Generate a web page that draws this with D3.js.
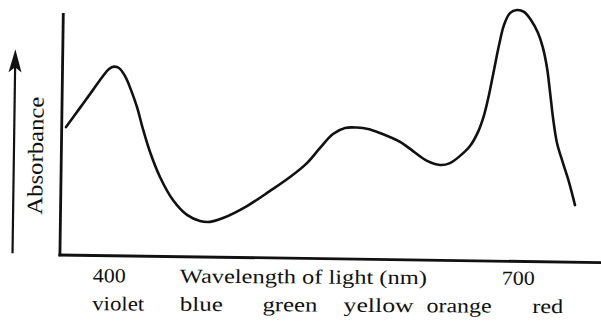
<!DOCTYPE html>
<html><head><meta charset="utf-8">
<script src="https://cdn.jsdelivr.net/npm/d3@7"></script>
<style>body{margin:0;background:#fff}svg{display:block}</style>
</head><body><svg id="c" width="601" height="325"></svg>
<script>
// ---- data ----
const wavelength = [368.5, 378.7, 388.3, 395.6, 400, 403.7, 407.3, 411.7, 416.1, 420.5, 424.9, 430.1, 437.4, 446.9, 457.2, 466.7, 474.1, 483.6, 501.2, 518.1, 532.8, 545.2, 554.8, 564.3, 573.1, 581.9, 590, 598.8, 613.5, 623, 633.3, 642.8, 650.1, 657.5, 664.8, 670.7, 675.1, 678.7, 682.4, 686.1, 689.7, 694.1, 699.3, 704.4, 709.5, 714.7, 718.3, 721.3, 723.5, 725.7, 728.6, 733, 737.4, 741.8];
const absorbance = [0.533, 0.613, 0.688, 0.746, 0.775, 0.785, 0.779, 0.746, 0.688, 0.617, 0.525, 0.429, 0.325, 0.229, 0.167, 0.142, 0.138, 0.154, 0.204, 0.267, 0.325, 0.383, 0.446, 0.504, 0.529, 0.531, 0.525, 0.508, 0.471, 0.433, 0.392, 0.375, 0.383, 0.413, 0.454, 0.513, 0.583, 0.667, 0.771, 0.875, 0.958, 1.008, 1.021, 1.013, 0.979, 0.925, 0.863, 0.779, 0.679, 0.571, 0.467, 0.383, 0.304, 0.208];
const tickValues = [400, 700];
const colorNames = ["violet", "blue", "green", "yellow", "orange", "red"];
const colorWavelengths = [407, 468, 533, 598, 657, 722];
const xTitle = "Wavelength of light (nm)";
const yTitle = "Absorbance";

// ---- layout / style ----
const svg = d3.select("#c");
const x = d3.scaleLinear().domain([400, 700]).range([109, 518]);
const y = d3.scaleLinear().domain([0, 1]).range([255, 15]);
const axisDomainX = [364, 778];
const axisDomainY = [-0.005, 1.008];
const ink = "#111";
const font = "'Liberation Serif', 'Times New Roman', serif";
const tilt = 0.8;      // scanned page is slightly rotated
const textTilt = 0.35;

// axes and arrow (slightly rotated like the scan)
const g = svg.append("g").attr("transform", `rotate(${tilt}, 60, 255)`);
const gt = svg.append("g").attr("transform", `rotate(${textTilt}, 60, 255)`);

g.append("line")
  .attr("x1", x(axisDomainX[0])).attr("x2", x(axisDomainX[0]))
  .attr("y1", y(axisDomainY[1])).attr("y2", y(axisDomainY[0]))
  .attr("stroke", ink).attr("stroke-width", 2.8);
g.append("line")
  .attr("x1", x(axisDomainX[0]) - 1.5).attr("x2", x(axisDomainX[1]))
  .attr("y1", y(0)).attr("y2", y(0))
  .attr("stroke", ink).attr("stroke-width", 2.8);

// tick labels via axis
const xAxis = d3.axisBottom(x).tickValues(tickValues).tickSize(0).tickPadding(0).tickFormat(d3.format("d"));
const ax = gt.append("g").attr("transform", "translate(0,282)").call(xAxis);
ax.select(".domain").remove();
ax.selectAll("text")
  .attr("dy", 0).attr("y", 0)
  .attr("font-family", font).attr("font-size", 20).attr("fill", ink)
  .attr("textLength", 33).attr("lengthAdjust", "spacingAndGlyphs");

// x title
gt.append("text").attr("x", 180).attr("y", 282)
  .attr("font-family", font).attr("font-size", 20).attr("fill", ink)
  .attr("textLength", 247).attr("lengthAdjust", "spacingAndGlyphs")
  .text(xTitle);

// colour names
const colorWidths = [52, 43, 55, 70, 65, 31];
gt.selectAll("text.cname").data(colorNames).join("text")
  .attr("class", "cname")
  .attr("x", (d, i) => x(colorWavelengths[i]) - colorWidths[i] / 2)
  .attr("y", 310)
  .attr("font-family", font).attr("font-size", 20).attr("fill", ink)
  .attr("textLength", (d, i) => colorWidths[i]).attr("lengthAdjust", "spacingAndGlyphs")
  .text(d => d);

// y title
g.append("text").attr("transform", "translate(41.5,156) rotate(-90)")
  .attr("text-anchor", "middle")
  .attr("font-family", font).attr("font-size", 22).attr("fill", ink)
  .attr("textLength", 118).attr("lengthAdjust", "spacingAndGlyphs")
  .text(yTitle);

// arrow
g.append("line").attr("x1", 12.5).attr("x2", 12.5).attr("y1", 254).attr("y2", 66)
  .attr("stroke", ink).attr("stroke-width", 2.2);
g.append("path").attr("d", "M12.5,50 L19,73 L12.5,68 L6,73 Z").attr("fill", ink);

// curve
const line = d3.line()
  .x((d, i) => x(wavelength[i]))
  .y((d, i) => y(absorbance[i]))
  .curve(d3.curveCatmullRom.alpha(0.5));
svg.append("path").datum(absorbance)
  .attr("d", line)
  .attr("fill", "none").attr("stroke", ink).attr("stroke-width", 2.6)
  .attr("stroke-linejoin", "round").attr("stroke-linecap", "round");
</script></body></html>
